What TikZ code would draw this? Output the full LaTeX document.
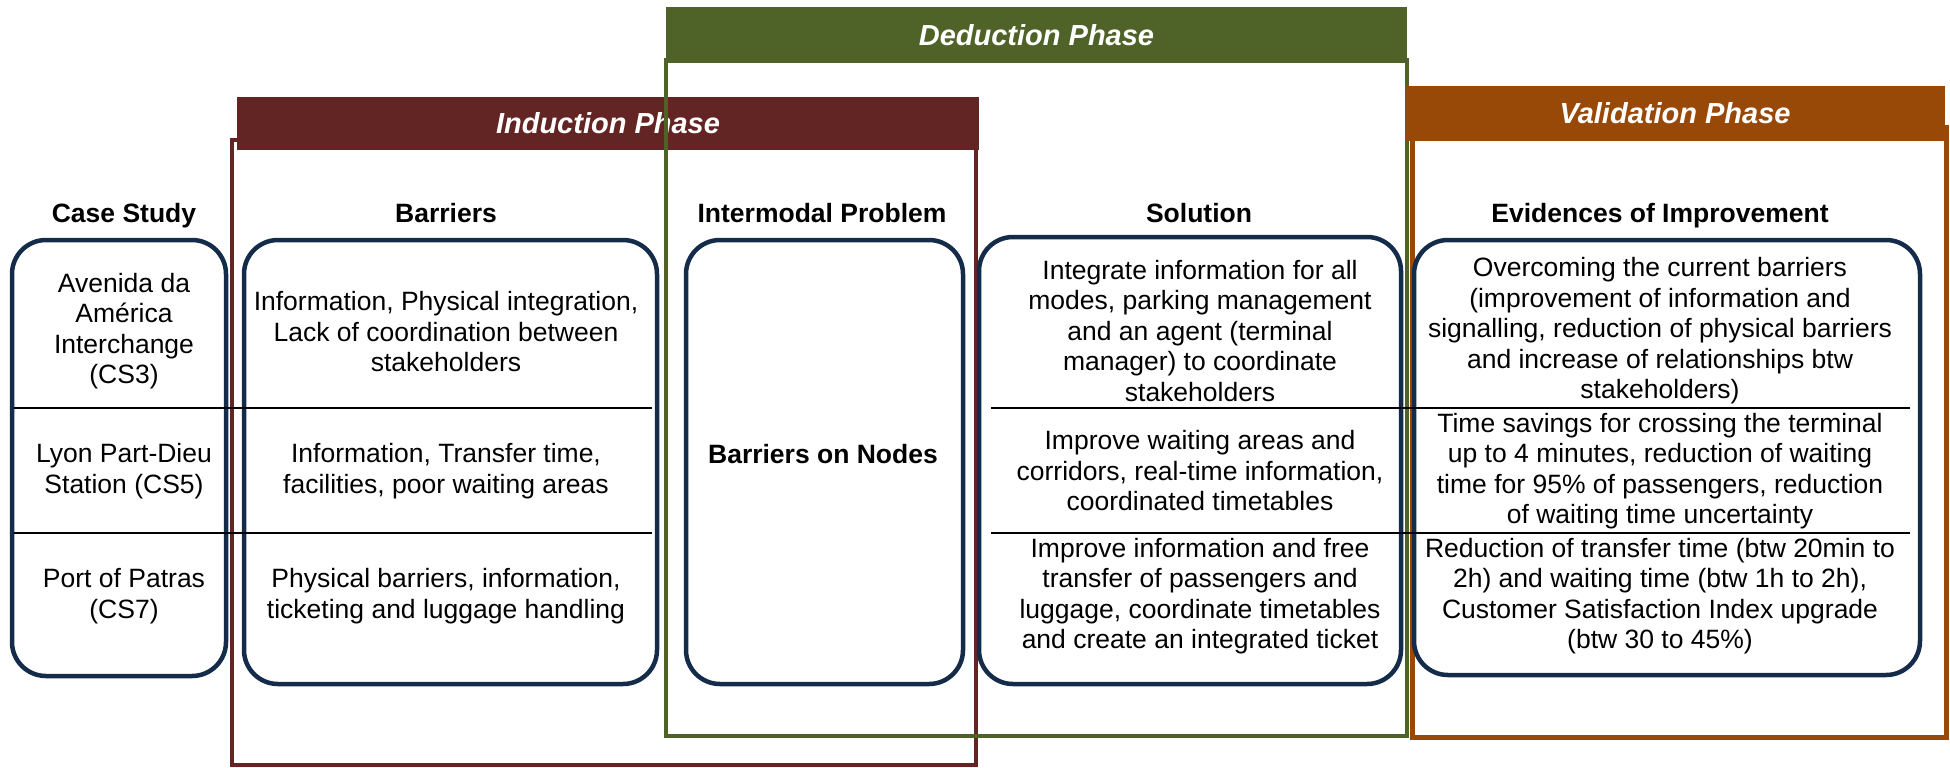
\documentclass[tikz,border=0pt]{standalone}
\usepackage{fontspec}
\setmainfont{Liberation Sans}
\definecolor{navy}{HTML}{142B4A}
\definecolor{maroon}{HTML}{632523}
\definecolor{olive}{HTML}{4F6228}
\definecolor{rust}{HTML}{984807}
\begin{document}
\begin{tikzpicture}[x=0.5pt,y=-0.5pt,
  phasehdr/.style={fill=#1, text=white, font=\fontsize{14.5}{17}\selectfont\bfseries\itshape, inner sep=0pt, outer sep=0pt, anchor=center},
  phaseframe/.style={draw=#1},
  cbox/.style={draw=navy, line width=2.25pt, rounded corners=17pt, inner sep=0pt, anchor=center},
  colhead/.style={font=\fontsize{13.25}{15.25}\selectfont\bfseries, inner sep=0pt, anchor=base},
  cell/.style={font=\fontsize{13.25}{15.25}\selectfont, align=center, inner sep=0pt, anchor=center},
  divider/.style={draw=black, line width=1pt}]
\useasboundingbox (0,0) rectangle (1950,767);
% Induction phase
\draw[phaseframe=maroon, line width=2pt] (232,140) rectangle (976,765);
\node[phasehdr=maroon, minimum width=371pt, minimum height=26.5pt] (indhdr) at (608,123.5) {Induction Phase};
% Deduction phase
\draw[phaseframe=olive, line width=2pt] (666,60) rectangle (1407,736);
\node[phasehdr=olive, minimum width=370.5pt, minimum height=28pt] (dedhdr) at (1036.5,35) {Deduction Phase};
% Validation phase
\draw[phaseframe=rust, line width=2.5pt] (1412,127) rectangle (1946,737);
\node[phasehdr=rust, minimum width=270pt, minimum height=27.5pt] (valhdr) at (1675,113.5) {Validation Phase};
% Column headers
\node[colhead] (hcase) at (124,222) {Case Study};
\node[colhead] (hbar) at (446,222) {Barriers};
\node[colhead] (hint) at (822,222) {Intermodal Problem};
\node[colhead] (hsol) at (1199,222) {Solution};
\node[colhead] (hevi) at (1660,222) {Evidences of Improvement};
% Rounded boxes
\node[cbox, minimum width=107pt, minimum height=218pt] (bcase) at (119,458) {};
\node[cbox, minimum width=206.5pt, minimum height=222pt] (bbar) at (450.5,462) {};
\node[cbox, minimum width=138.5pt, minimum height=222pt] (bint) at (824.5,462) {};
\node[cbox, minimum width=211pt, minimum height=223.5pt] (bsol) at (1190,460.5) {};
\node[cbox, minimum width=253pt, minimum height=217.5pt] (bevi) at (1667,457.5) {};
% Dividers
\coordinate (l1a) at (14,408);  \coordinate (l1b) at (652,408);
\coordinate (l2a) at (14,533);  \coordinate (l2b) at (652,533);
\coordinate (r1a) at (991,408); \coordinate (r1b) at (1910,408);
\coordinate (r2a) at (991,533); \coordinate (r2b) at (1910,533);
\draw[divider] (l1a) -- (l1b);
\draw[divider] (l2a) -- (l2b);
\draw[divider] (r1a) -- (r1b);
\draw[divider] (r2a) -- (r2b);
% Case study cells
\node[cell] (c1) at (124,331) {Avenida da\\Am\'erica\\Interchange\\(CS3)};
\node[cell] (c2) at (124,471) {Lyon Part-Dieu\\Station (CS5)};
\node[cell] (c3) at (124,596) {Port of Patras\\(CS7)};
% Barrier cells
\node[cell] (b1) at (446,332) {Information, Physical integration,\\Lack of coordination between\\stakeholders};
\node[cell] (b2) at (446,471) {Information, Transfer time,\\facilities, poor waiting areas};
\node[cell] (b3) at (446,596) {Physical barriers, information,\\ticketing and luggage handling};
% Intermodal problem
\node[colhead] (p1) at (823,463) {Barriers on Nodes};
% Solution cells
\node[cell] (s1) at (1200,331) {Integrate information for all\\modes, parking management\\and an agent (terminal\\manager) to coordinate\\stakeholders};
\node[cell] (s2) at (1200,471) {Improve waiting areas and\\corridors, real-time information,\\coordinated timetables};
\node[cell] (s3) at (1200,596) {Improve information and free\\transfer of passengers and\\luggage, coordinate timetables\\and create an integrated ticket};
% Evidence cells
\node[cell] (e1) at (1660,331) {Overcoming the current barriers\\(improvement of information and\\signalling, reduction of physical barriers\\and increase of relationships btw\\stakeholders)};
\node[cell] (e2) at (1660,471) {Time savings for crossing the terminal\\up to 4 minutes, reduction of waiting\\time for 95\% of passengers, reduction\\of waiting time uncertainty};
\node[cell] (e3) at (1660,596) {Reduction of transfer time (btw 20min to\\2h) and waiting time (btw 1h to 2h),\\Customer Satisfaction Index upgrade\\(btw 30 to 45\%)};
\end{tikzpicture}
\end{document}
